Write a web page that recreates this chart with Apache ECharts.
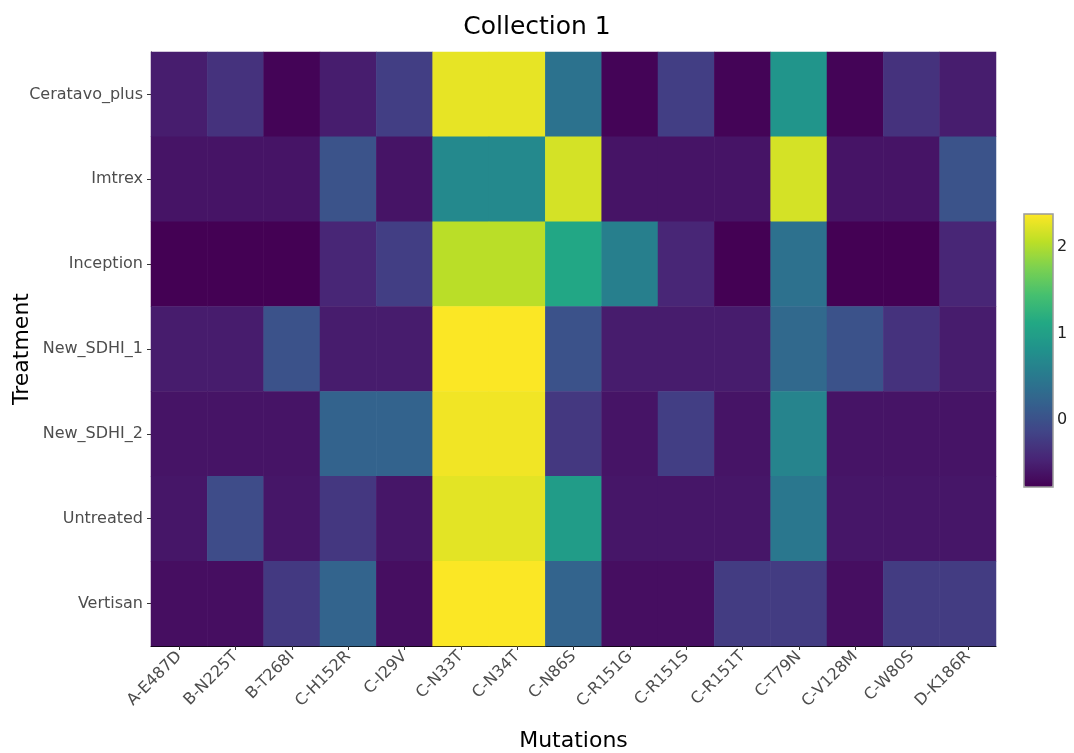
<!DOCTYPE html>
<html>
<head>
<meta charset="utf-8">
<script src="https://cdn.jsdelivr.net/npm/echarts@6/dist/echarts.min.js"></script>
<style>
html,body{margin:0;padding:0;background:#fff;}
#chart{width:1074px;height:753px;}
</style>
</head>
<body>
<div id="chart"></div>
<script>
const mutations = ["A-E487D","B-N225T","B-T268I","C-H152R","C-I29V","C-N33T","C-N34T","C-N86S","C-R151G","C-R151S","C-R151T","C-T79N","C-V128M","C-W80S","D-K186R"];
const treatments = ["Ceratavo_plus","Imtrex","Inception","New_SDHI_1","New_SDHI_2","Untreated","Vertisan"];

const ceratavoPlus = [-0.52,-0.32,-0.74,-0.52,-0.2, 2.27, 2.27, 0.42,-0.74,-0.2,-0.74, 0.86,-0.74,-0.32,-0.52];
const imtrex       = [-0.6,-0.6,-0.6, 0.03,-0.6, 0.71, 0.71, 2.18,-0.6,-0.6,-0.6, 2.18,-0.6,-0.6, 0.03];
const inception    = [-0.77,-0.77,-0.77,-0.44,-0.2, 2.05, 2.05, 1.1, 0.58,-0.44,-0.77, 0.4,-0.77,-0.77,-0.44];
const newSdhi1     = [-0.53,-0.53, 0.02,-0.53,-0.53, 2.37, 2.37, 0.02,-0.53,-0.53,-0.53, 0.3, 0.02,-0.32,-0.53];
const newSdhi2     = [-0.6,-0.6,-0.6, 0.23, 0.23, 2.32, 2.32,-0.26,-0.6,-0.2,-0.6, 0.64,-0.6,-0.6,-0.6];
const untreated    = [-0.58,-0.05,-0.58,-0.27,-0.58, 2.25, 2.25, 0.96,-0.58,-0.58,-0.58, 0.48,-0.58,-0.58,-0.58];
const vertisan     = [-0.65,-0.65,-0.25, 0.24,-0.65, 2.37, 2.37, 0.24,-0.65,-0.65,-0.22,-0.22,-0.65,-0.22,-0.22];

const colorbarTicks = [0, 1, 2];
const valueMin = -0.77;
const valueMax = 2.38;

const rows = [ceratavoPlus, imtrex, inception, newSdhi1, newSdhi2, untreated, vertisan];
const heatData = [];
rows.forEach((row, yi) => row.forEach((v, xi) => heatData.push([xi, yi, v])));

const viridis = ['#440154','#482475','#414487','#355f8d','#2a788e','#21918c','#22a884','#44bf70','#7ad151','#bddf26','#fde725'];
const FONT = 'DejaVu Sans';

const chart = echarts.init(document.getElementById('chart'), null, {renderer:'canvas'});
chart.setOption({
  backgroundColor: '#ffffff',
  animation: false,
  title: {
    text: 'Collection 1',
    left: 'center',
    top: 10,
    textStyle: {fontFamily: FONT, fontSize: 25, fontWeight: 'normal', color: '#000'}
  },
  grid: [
    {left: 151, top: 52, right: 78, bottom: 107, containLabel: false, outerBoundsMode: 'none'},
    {left: 1024, top: 214, width: 29, height: 273, show: true, borderColor: '#999', borderWidth: 1.5, backgroundColor: 'transparent', z: 10, outerBoundsMode: 'none'}
  ],
  xAxis: [
    {
      type: 'category', data: mutations, gridIndex: 0,
      name: 'Mutations', nameLocation: 'middle', nameGap: 84,
      nameTextStyle: {fontFamily: FONT, fontSize: 22, color: '#000'},
      axisLine: {show: true, lineStyle: {color: '#000', width: 1}},
      axisTick: {show: true, alignWithLabel: true, length: 4, lineStyle: {color: '#333'}},
      axisLabel: {rotate: 45, fontFamily: FONT, fontSize: 16, color: '#4d4d4d', margin: 8, interval: 0},
      splitLine: {show: false}
    },
    {type: 'value', gridIndex: 1, show: false, min: 0, max: 1}
  ],
  yAxis: [
    {
      type: 'category', data: treatments, gridIndex: 0, inverse: true,
      name: 'Treatment', nameLocation: 'middle', nameGap: 118, nameMoveOverlap: false,
      nameTextStyle: {fontFamily: FONT, fontSize: 22, color: '#000'},
      axisLine: {show: true, lineStyle: {color: '#000', width: 1}},
      axisTick: {show: true, alignWithLabel: true, length: 4, lineStyle: {color: '#333'}},
      axisLabel: {fontFamily: FONT, fontSize: 16, color: '#4d4d4d', margin: 8, interval: 0},
      splitLine: {show: false}
    },
    {
      type: 'value', gridIndex: 1, position: 'right', min: valueMin, max: valueMax,
      axisLine: {show: false},
      axisTick: {show: true, length: 4, inside: false, customValues: colorbarTicks, lineStyle: {color: '#333'}},
      axisLabel: {show: true, customValues: colorbarTicks, fontFamily: FONT, fontSize: 16, color: '#222', margin: 4},
      splitLine: {show: false}
    }
  ],
  visualMap: {
    type: 'continuous',
    seriesIndex: 0,
    min: valueMin, max: valueMax,
    calculable: false,
    hoverLink: false,
    orient: 'vertical',
    left: 1024, top: 214,
    itemWidth: 29, itemHeight: 273,
    padding: 0,
    text: ['', ''],
    showLabel: false,
    inRange: {color: viridis}
  },
  series: [{
    type: 'heatmap',
    xAxisIndex: 0, yAxisIndex: 0,
    data: heatData,
    itemStyle: {borderWidth: 0},
    emphasis: {disabled: true}
  }]
});
</script>
</body>
</html>
